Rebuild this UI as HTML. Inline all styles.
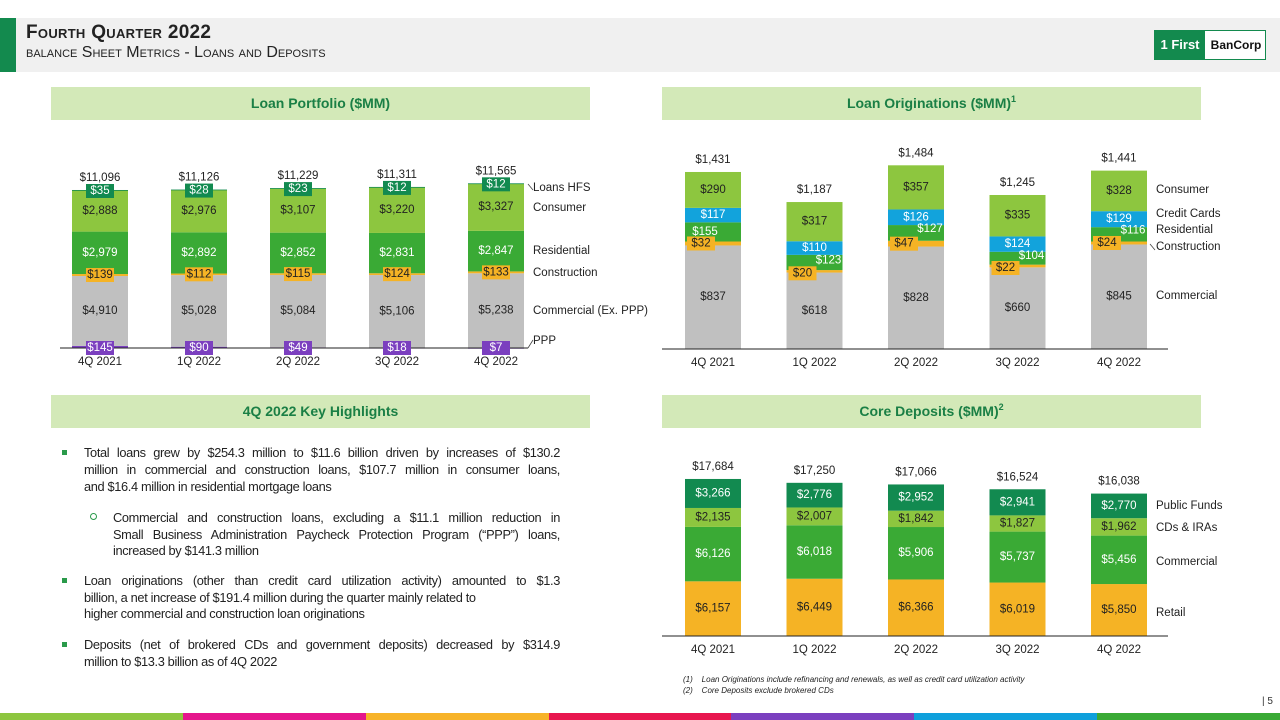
<!DOCTYPE html>
<html><head><meta charset="utf-8">
<style>
body{margin:0;width:1280px;height:720px;overflow:hidden;background:#fff;font-family:"Liberation Sans",sans-serif;position:relative}
.abs{position:absolute}
.hdr{left:0;top:18px;width:1280px;height:54px;background:#f0f0f0}
.gbar{left:0;top:18px;width:16px;height:54px;background:#138a4e}
.t1{left:26px;top:22px;font-size:19px;font-weight:bold;color:#222;font-variant:small-caps;letter-spacing:0.3px}
.t2{left:26px;top:44px;font-size:16px;color:#222;font-variant:small-caps}
.sec{background:#d3e9b8;color:#1a7f45;font-weight:bold;font-size:14px;text-align:center;line-height:33px;height:33px;width:539px}
.sec sup{font-size:9px;vertical-align:baseline;position:relative;top:-6px;line-height:0}
.bl{font-size:12.8px;color:#222;letter-spacing:-0.35px;white-space:nowrap}
.j{text-align:justify;text-align-last:justify;width:476px}
.sq{width:5px;height:5px;background:#2a9a4a}
.fn{font-size:8px;font-style:italic;color:#222}
</style></head><body>
<div class="abs hdr"></div>
<div class="abs gbar"></div>
<div class="abs t1">Fourth Quarter 2022</div>
<div class="abs t2">balance Sheet Metrics - Loans and Deposits</div>
<div class="abs" style="left:1154px;top:30px;width:112px;height:30px;border:1px solid #138a4e;box-sizing:border-box;background:#fff;font-weight:bold;font-size:13px">
 <div class="abs" style="left:0;top:0;width:50px;height:28px;background:#138a4e;color:#fff;line-height:28px;text-align:center">1 First</div>
 <div class="abs" style="left:52px;top:0;width:58px;height:28px;color:#111;line-height:28px;text-align:center;font-size:12px">BanCorp</div>
</div>
<div class="abs sec" style="left:51px;top:87px">Loan Portfolio ($MM)</div>
<div class="abs sec" style="left:662px;top:87px">Loan Originations ($MM)<sup>1</sup></div>
<div class="abs sec" style="left:51px;top:395px">4Q 2022 Key Highlights</div>
<div class="abs sec" style="left:662px;top:395px">Core Deposits ($MM)<sup>2</sup></div>

<div>
<div class="abs sq" style="left:62px;top:450px"></div>
<div class="abs bl j" style="left:84px;top:445px">Total loans grew by $254.3 million to $11.6 billion driven by increases of $130.2</div>
<div class="abs bl j" style="left:84px;top:462px">million in commercial and construction loans, $107.7 million in consumer loans,</div>
<div class="abs bl" style="left:84px;top:479px">and $16.4 million in residential mortgage loans</div>
<div class="abs" style="left:90px;top:513px;width:5px;height:5px;border:1px solid #2a9a4a;border-radius:50%"></div>
<div class="abs bl j" style="left:113px;top:510px;width:447px">Commercial and construction loans, excluding a $11.1 million reduction in</div>
<div class="abs bl j" style="left:113px;top:527px;width:447px">Small Business Administration Paycheck Protection Program (“PPP”) loans,</div>
<div class="abs bl" style="left:113px;top:543px">increased by $141.3 million</div>
<div class="abs sq" style="left:62px;top:578px"></div>
<div class="abs bl j" style="left:84px;top:573px">Loan originations (other than credit card utilization activity) amounted to $1.3</div>
<div class="abs bl" style="left:84px;top:590px">billion, a net increase of $191.4 million during the quarter mainly related to</div>
<div class="abs bl" style="left:84px;top:606px">higher commercial and construction loan originations</div>
<div class="abs sq" style="left:62px;top:642px"></div>
<div class="abs bl j" style="left:84px;top:637px">Deposits (net of brokered CDs and government deposits) decreased by $314.9</div>
<div class="abs bl" style="left:84px;top:654px">million to $13.3 billion as of 4Q 2022</div>
</div>

<div class="abs fn" style="left:683px;top:675px">(1)&nbsp;&nbsp;&nbsp;&nbsp;Loan Originations include refinancing and renewals, as well as credit card utilization activity</div>
<div class="abs fn" style="left:683px;top:686px">(2)&nbsp;&nbsp;&nbsp;&nbsp;Core Deposits exclude brokered CDs</div>
<div class="abs" style="left:1262px;top:696px;font-size:10px;color:#333">| 5</div>

<div class="abs" style="left:0;top:713px;width:1280px;height:7px;display:flex">
<div style="flex:1;background:#8dc63f"></div><div style="flex:1;background:#e5168c"></div><div style="flex:1;background:#f7b329"></div><div style="flex:1;background:#e8174f"></div><div style="flex:1;background:#7b3fbf"></div><div style="flex:1;background:#0ea0dc"></div><div style="flex:1;background:#3aaa35"></div>
</div>

<svg class="abs" id="charts" style="left:0;top:0" width="1280" height="720" font-family="Liberation Sans, sans-serif" font-size="11.5"></svg>

<script>
const categories = ['4Q 2021','1Q 2022','2Q 2022','3Q 2022','4Q 2022'];
// Loan portfolio
const lpPPP = [145,90,49,18,7];
const lpCommercial = [4910,5028,5084,5106,5238];
const lpConstruction = [139,112,115,124,133];
const lpResidential = [2979,2892,2852,2831,2847];
const lpConsumer = [2888,2976,3107,3220,3327];
const lpHFS = [35,28,23,12,12];
const lpTotals = [11096,11126,11229,11311,11565];
// Loan originations
const loCommercial = [837,618,828,660,845];
const loConstruction = [32,20,47,22,24];
const loResidential = [155,123,127,104,116];
const loCredit = [117,110,126,124,129];
const loConsumer = [290,317,357,335,328];
const loTotals = [1431,1187,1484,1245,1441];
// Core deposits
const cdRetail = [6157,6449,6366,6019,5850];
const cdCommercial = [6126,6018,5906,5737,5456];
const cdCDs = [2135,2007,1842,1827,1962];
const cdPublic = [3266,2776,2952,2941,2770];
const cdTotals = [17684,17250,17066,16524,16038];

const NS='http://www.w3.org/2000/svg';
const svg=document.getElementById('charts');
function mk(tag,attrs,parent){const e=document.createElementNS(NS,tag);for(const k in attrs)e.setAttribute(k,attrs[k]);(parent||svg).appendChild(e);return e;}
function fmt(v){return '$'+v.toLocaleString('en-US');}
function txt(x,y,s,fill,parent,anchor){const t=mk('text',{x:x,y:y,fill:fill,'text-anchor':anchor||'middle','dominant-baseline':'central'},parent);t.textContent=s;return t;}

function chart(name,cfg){
  const g=mk('g',{});
  
  
  const gb=mk('g',{},g);
  const gl=mk('g',{},g);
  const xC=i=>cfg.x0+i*cfg.step;
  const yS=v=>cfg.base-v*cfg.k;
  const bw=cfg.bw;
  categories.forEach((c,i)=>{
    let cum=0;
    cfg.series.forEach(s=>{
      const v=s.data[i];
      const y0=yS(cum), y1=yS(cum+v);
      const r=mk('rect',{x:xC(i)-bw/2,y:y1,width:bw,height:Math.max(y0-y1,0.8),fill:s.color},gb);
      
      
      let lx=xC(i)+(s.dx?s.dx[i]:0), ly=(y0+y1)/2+(s.dy?s.dy[i]:0);
      if(s.pos==='base') ly=cfg.base;
      if(s.pos==='top') ly=y1+1;
      if(s.box){mk('rect',{x:lx-14,y:ly-7,width:28,height:14,fill:s.color},gl);}
      const t=txt(lx,ly,fmt(v),s.tc,gl);
      
      
      cum+=v;
    });
    const tot=txt(xC(i),yS(cfg.totals[i])-12,fmt(cfg.totals[i]),'#222',gl);
    
    
    const xl=txt(xC(i),cfg.base+14,c,'#222',gl);
    
    
  });
  const ax=mk('line',{x1:cfg.ax1,x2:cfg.ax2,y1:cfg.base,y2:cfg.base,stroke:'#222','stroke-width':1},gb);
  
  
  cfg.legend.forEach(l=>{
    const t=txt(cfg.lx,l[1],l[0],'#222',gl,'start');
    
    
  });
}
const GRAY='#c0c0c0',ORG='#f5b325',GRN='#3aaa35',LGRN='#8dc63f',DGRN='#128a50',PUR='#7b3fbf',BLU='#12a3dc';
chart('loan-portfolio-chart',{x0:100,step:99,bw:56,base:348,k:0.01424,ax1:60,ax2:528,lx:533,totals:lpTotals,
 series:[
  {key:'ppp',data:lpPPP,color:PUR,tc:'#fff',box:true,pos:'base'},
  {key:'commercial',data:lpCommercial,color:GRAY,tc:'#222'},
  {key:'construction',data:lpConstruction,color:ORG,tc:'#222',box:true},
  {key:'residential',data:lpResidential,color:GRN,tc:'#fff'},
  {key:'consumer',data:lpConsumer,color:LGRN,tc:'#222'},
  {key:'hfs',data:lpHFS,color:DGRN,tc:'#fff',box:true,pos:'top'}],
 legend:[['Loans HFS',188],['Consumer',208],['Residential',251],['Construction',273],['Commercial (Ex. PPP)',311],['PPP',341]]});
chart('loan-originations-chart',{x0:713,step:101.5,bw:56,base:349,k:0.1237,ax1:662,ax2:1168,lx:1156,totals:loTotals,
 series:[
  {key:'commercial',data:loCommercial,color:GRAY,tc:'#222'},
  {key:'construction',data:loConstruction,color:ORG,tc:'#222',box:true,dx:[-12,-12,-12,-12,-12],dy:[0,2,0,2,0]},
  {key:'residential',data:loResidential,color:GRN,tc:'#fff',dx:[-8,14,14,14,14],dy:[0,-2,-4,-2,-4]},
  {key:'credit',data:loCredit,color:BLU,tc:'#fff'},
  {key:'consumer',data:loConsumer,color:LGRN,tc:'#222'}],
 legend:[['Consumer',190],['Credit Cards',214],['Residential',230],['Construction',247],['Commercial',296]]});
chart('core-deposits-chart',{x0:713,step:101.5,bw:56,base:636,k:0.00888,ax1:662,ax2:1168,lx:1156,totals:cdTotals,
 series:[
  {key:'retail',data:cdRetail,color:ORG,tc:'#222'},
  {key:'commercial',data:cdCommercial,color:GRN,tc:'#fff'},
  {key:'cds',data:cdCDs,color:LGRN,tc:'#222'},
  {key:'public-funds',data:cdPublic,color:DGRN,tc:'#fff'}],
 legend:[['Public Funds',506],['CDs & IRAs',528],['Commercial',562],['Retail',613]]});
[[528,184,533,190],[528,348,533,340],[1150,244,1155,250]].forEach(a=>{
  const l=mk('line',{x1:a[0],y1:a[1],x2:a[2],y2:a[3],stroke:'#444','stroke-width':0.8});
  
  
});
</script>
</body></html>
